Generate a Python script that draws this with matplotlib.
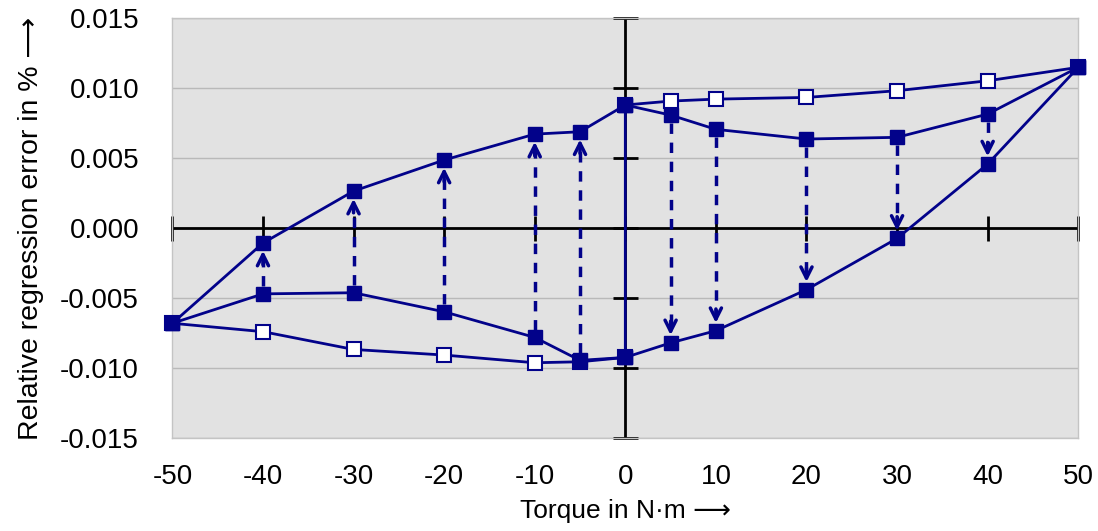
import matplotlib.pyplot as plt
import numpy as np

plt.rcParams['font.family'] = ['Liberation Sans', 'DejaVu Sans']
plt.rcParams['axes.unicode_minus'] = False

# torque steps
x_left = [-50, -40, -30, -20, -10, -5, 0]
x_right = [0, 5, 10, 20, 30, 40, 50]

# filled squares - loops
up_left = [-0.0068, -0.00107, 0.00264, 0.00486, 0.00671, 0.00688, 0.00879]
low_left = [-0.0068, -0.0047, -0.00462, -0.00598, -0.00781, -0.00945, -0.00924]
up_right = [0.00879, 0.00807, 0.00705, 0.00636, 0.00648, 0.00814, 0.01148]
low_right = [-0.00924, -0.0082, -0.00733, -0.0044, -0.00074, 0.00457, 0.01148]

# hollow squares - first run
x_hollow = [-50, -40, -30, -20, -10, -5, 0, 0, 5, 10, 20, 30, 40, 50]
y_hollow = [-0.0068, -0.0074, -0.00867, -0.00907, -0.00962, -0.00955, -0.00924,
            0.00879, 0.00907, 0.00921, 0.00933, 0.00981, 0.01052, 0.01148]

# arrows: (x, from, to)
arrow_x = [-40, -30, -20, -10, -5, 5, 10, 20, 30, 40]
arrow_from = low_left[1:6] + up_right[1:6]
arrow_to = up_left[1:6] + low_right[1:6]

xticks = [-50, -40, -30, -20, -10, 0, 10, 20, 30, 40, 50]
yticks = [-0.015, -0.010, -0.005, 0.0, 0.005, 0.010, 0.015]

navy = '#02028a'

fig = plt.figure(figsize=(10.98, 5.31), dpi=100)
ax = fig.add_axes([0.157, 0.175, 0.825, 0.791])
ax.set_facecolor('#e2e2e2')
ax.set_xlim(-50, 50)
ax.set_ylim(-0.015, 0.015)

for y in yticks:
    ax.axhline(y, color='#b9b9b9', lw=1, zorder=1)

# center axes with ticks
ax.axhline(0, color='black', lw=2, zorder=2)
ax.axvline(0, color='black', lw=2, zorder=2)
ax.plot(xticks, np.zeros(len(xticks)), ls='none', marker='|', ms=18, mew=2,
        color='black', zorder=2, clip_on=False)
ax.plot(np.zeros(len(yticks)), yticks, ls='none', marker='_', ms=18, mew=2,
        color='black', zorder=2, clip_on=False)

# arrows
gap = 0.00055
for x, y0, y1 in zip(arrow_x, arrow_from, arrow_to):
    s = 1 if y1 > y0 else -1
    tip = y1 - s * gap
    ax.plot([x, x], [y0 + s * gap, tip - s * 0.0006], color=navy, lw=2.5,
            dashes=(3, 2.5), zorder=3)
    ax.annotate('', xy=(x, tip), xytext=(x, tip - s * 0.001),
                arrowprops=dict(arrowstyle='->', color=navy, lw=2.5,
                                mutation_scale=20, shrinkA=0, shrinkB=0),
                zorder=3)

ms = 10.5
ax.plot(x_hollow, y_hollow, color=navy, lw=2, marker='s', ms=ms,
        mfc='white', mec=navy, mew=1.5, zorder=4, clip_on=False)
for yy, xx in [(up_left, x_left), (low_left, x_left), (up_right, x_right), (low_right, x_right)]:
    ax.plot(xx, yy, color=navy, lw=2, marker='s', ms=ms, mfc=navy, mec=navy,
            zorder=5, clip_on=False)

ax.set_xticks(xticks)
ax.set_yticks(yticks)
ax.set_yticklabels(['%.3f' % v for v in yticks], fontsize=20)
ax.set_xticklabels([str(v) for v in xticks], fontsize=20)
ax.tick_params(length=0, colors='black')
ax.tick_params(axis='y', pad=24)
ax.tick_params(axis='x', pad=19)
for sp in ax.spines.values():
    sp.set_color('#c4c4c4')
    sp.set_linewidth(1)

ax.set_xlabel('Torque in N\u00b7m \u27f6', fontsize=19, labelpad=6)
ax.set_ylabel('Relative regression error in % \u27f6', fontsize=20.5, labelpad=12)

fig.savefig('out.png', dpi=100)
